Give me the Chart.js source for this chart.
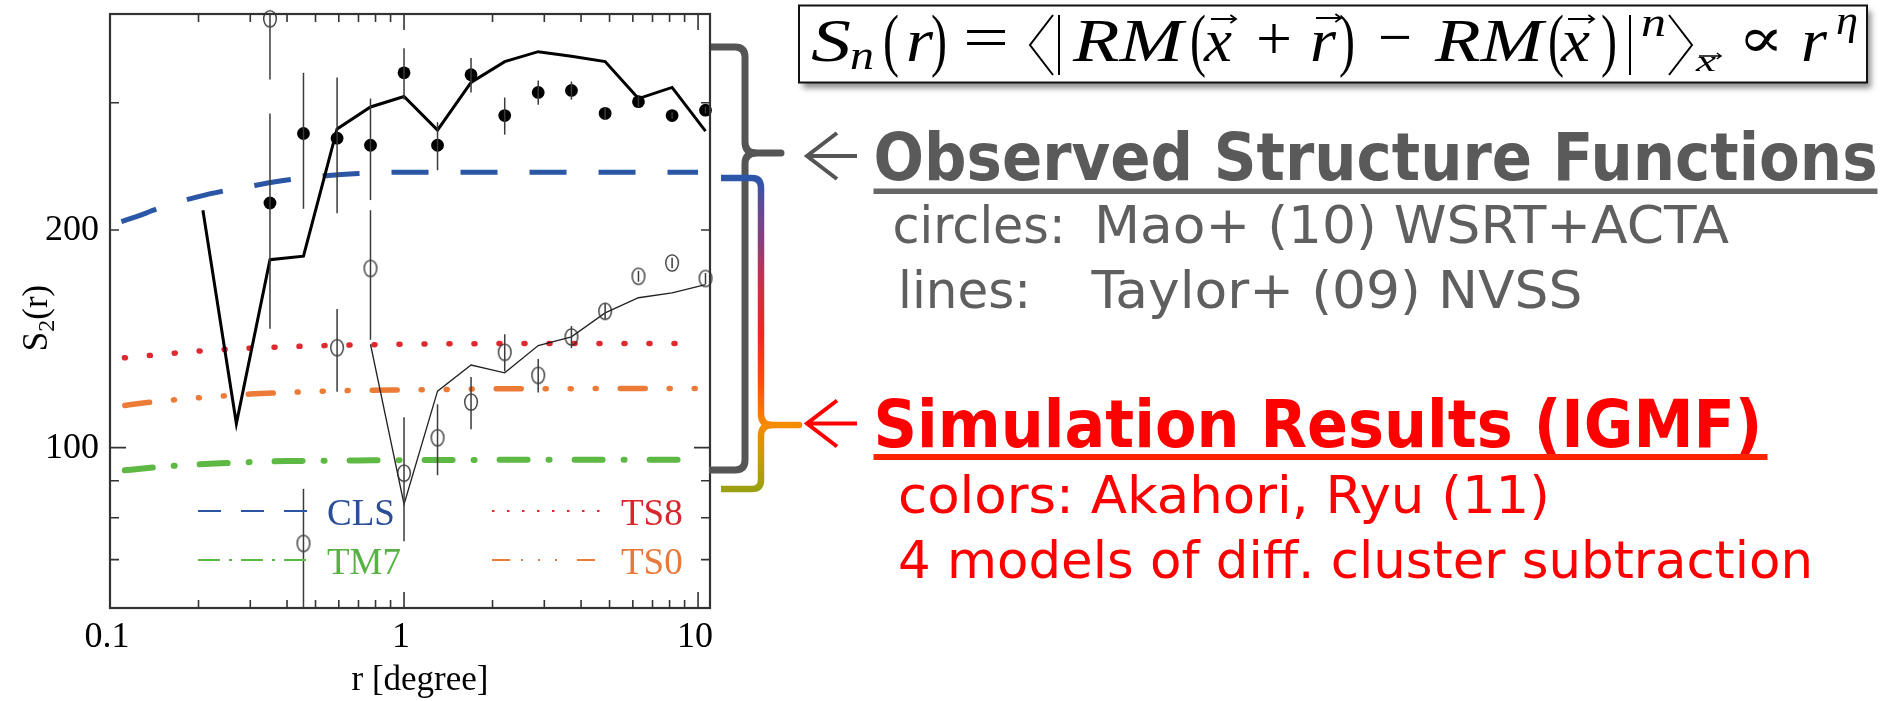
<!DOCTYPE html>
<html>
<head>
<meta charset="utf-8">
<title>RM structure functions</title>
<script src="https://cdn.jsdelivr.net/npm/chart.js@4.4.1/dist/chart.umd.min.js"></script>
<style>
  html, body { margin: 0; padding: 0; background: #fff; overflow: hidden; }
  #box { position: relative; width: 1895px; height: 701px; }
</style>
</head>
<body>
<div id="box"><canvas id="sf"></canvas></div>
<script>
// separations of the binned points, degrees
const rBins = [0.35, 0.455, 0.592, 0.769, 1.0, 1.3, 1.69, 2.2, 2.86, 3.71, 4.83, 6.27, 8.16, 10.6];

// Mao+ (10): filled circles and open circles with 1-sigma bars
const s2Filled = [218, 272, 268, 262, 330, 262, 328, 288, 310, 312, 290, 301, 288, 293];
const errFilled = [72, 58, 57, 42, 27, 20, 18, 17, 12, 9, 6, 5, 3, 3];
const s2Open = [392, 73.7, 137.5, 177, 92.2, 103.2, 115.6, 135.5, 125.9, 142.3, 154.4, 172.6, 180.1, 171.4];
const errOpen = [69, 14, 18, 36, 18, 11.6, 9.6, 8, 6.7, 5, 4, 3, 3, 3];

// Taylor+ (09) NVSS, thick and thin curves
const rNvssA = [0.207, 0.269, 0.35, 0.455, 0.592, 0.769, 1.0, 1.3, 1.69, 2.2, 2.86, 3.71, 4.83, 6.27, 8.16, 10.6];
const s2NvssA = [213, 108, 182, 184, 276, 296, 306, 275, 320, 342, 353, 348, 342, 304, 315, 274];
const rNvssB = [0.769, 1.0, 1.3, 1.69, 2.2, 2.86, 3.71, 4.83, 6.27, 8.16, 10.6];
const s2NvssB = [139, 83.5, 119.7, 130.1, 126.9, 138.4, 142.3, 153.6, 161.2, 163.7, 168.1];

// Akahori & Ryu (11) IGMF models
const rModel = [0.1, 0.12, 0.15, 0.2, 0.25, 0.3, 0.4, 0.5, 0.7, 1, 1.5, 2, 3, 5, 10];
const s2CLS = [203, 208, 215, 222.5, 227, 230, 234.5, 237, 239.5, 240.5, 240.5, 240.5, 240.5, 240.5, 240.5];
const s2TS8 = [132.6, 133.5, 134.6, 136, 136.8, 137.3, 137.9, 138.3, 138.7, 139, 139.2, 139.3, 139.3, 139.3, 139.3];
const s2TS0 = [113.5, 114.8, 116, 117.2, 118, 118.6, 119.2, 119.6, 120, 120.2, 120.4, 120.6, 120.6, 120.7, 120.7];
const s2TM7 = [92.5, 93.3, 94.1, 94.8, 95.2, 95.5, 95.8, 95.9, 96.0, 96.1, 96.1, 96.2, 96.2, 96.2, 96.2];

// axis ticks
const xMajor = [0.1, 1, 10];
const xMinor = [0.2, 0.3, 0.4, 0.5, 0.6, 0.7, 0.8, 0.9, 2, 3, 4, 5, 6, 7, 8, 9];
const xLabels = ['0.1', '1', '10'];
const yMajor = [100];
const yMinor = [70, 80, 90, 200, 300];
const yLabeled = [100, 200];

const pts = (xs, ys) => xs.map((x, i) => ({ x: x, y: ys[i] }));

// open marker: slightly tall ellipse
const openMarker = document.createElement('canvas');
openMarker.width = 16;
openMarker.height = 20;
(function () {
  const c = openMarker.getContext('2d');
  c.strokeStyle = '#2a2a2a';
  c.lineWidth = 1.3;
  c.beginPath();
  c.ellipse(8, 10, 6.3, 8.2, 0, 0, Math.PI * 2);
  c.stroke();
})();

const modelLine = (label, ys, color, width, dash, offset, cap) => ({
  label: label,
  data: pts(rModel, ys),
  borderColor: color,
  borderWidth: width,
  borderDash: dash,
  borderDashOffset: offset,
  borderCapStyle: cap,
  cubicInterpolationMode: 'monotone',
  pointRadius: 0,
  fill: false
});

const models = [
  { name: 'CLS', color: '#2b55a5', text: '#2a4e98', legendDash: [23, 20] },
  { name: 'TM7', color: '#5db844', text: '#58b243', legendDash: [22, 9, 3, 9] },
  { name: 'TS8', color: '#e0282f', text: '#d9262c', legendDash: [2.5, 12.5] },
  { name: 'TS0', color: '#eb7b36', text: '#e8793a', legendDash: [18, 11, 2, 15, 2, 15, 2, 20] }
];

function fitText(ctx, s, x, y, w) {
  const m = ctx.measureText(s).width;
  ctx.save();
  ctx.translate(x, y);
  ctx.scale(w / m, 1);
  ctx.fillText(s, 0, 0);
  ctx.restore();
}

// data error bars, clipped to the plot area
const errorBars = {
  id: 'errorBars',
  afterDatasetsDraw(chart) {
    const { ctx, chartArea: a, scales: { x, y } } = chart;
    ctx.save();
    ctx.beginPath();
    ctx.rect(a.left, a.top, a.right - a.left, a.bottom - a.top);
    ctx.clip();
    ctx.strokeStyle = '#3a3a3a';
    ctx.lineWidth = 1.5;
    const bars = (vs, es) => rBins.forEach((r, i) => {
      const px = x.getPixelForValue(r);
      ctx.beginPath();
      ctx.moveTo(px, y.getPixelForValue(vs[i] + es[i]));
      ctx.lineTo(px, y.getPixelForValue(Math.max(vs[i] - es[i], 1)));
      ctx.stroke();
    });
    bars(s2Filled, errFilled);
    bars(s2Open, errOpen);
    ctx.restore();
  }
};

// box, inward ticks, tick labels, axis titles and the model legend
const frame = {
  id: 'frame',
  afterDraw(chart) {
    const { ctx, chartArea: a, scales: { x, y } } = chart;
    ctx.save();
    ctx.strokeStyle = '#333';
    ctx.lineWidth = 1.6;
    const tickX = (v, len) => {
      const px = x.getPixelForValue(v);
      ctx.beginPath();
      ctx.moveTo(px, a.bottom); ctx.lineTo(px, a.bottom - len);
      ctx.moveTo(px, a.top); ctx.lineTo(px, a.top + len);
      ctx.stroke();
    };
    const tickY = (v, len) => {
      const py = y.getPixelForValue(v);
      ctx.beginPath();
      ctx.moveTo(a.left, py); ctx.lineTo(a.left + len, py);
      ctx.moveTo(a.right, py); ctx.lineTo(a.right - len, py);
      ctx.stroke();
    };
    xMajor.forEach(v => tickX(v, 16));
    xMinor.forEach(v => tickX(v, 8));
    yMajor.forEach(v => tickY(v, 16));
    yMinor.forEach(v => tickY(v, 9));

    ctx.lineWidth = 2.2;
    ctx.strokeRect(a.left, a.top, a.right - a.left, a.bottom - a.top);

    // tick labels
    ctx.fillStyle = '#000';
    ctx.font = '36px "Liberation Serif"';
    ctx.textBaseline = 'alphabetic';
    ctx.textAlign = 'center';
    xMajor.forEach((v, i) => ctx.fillText(xLabels[i], x.getPixelForValue(v) - 3, 647));
    ctx.textAlign = 'right';
    ctx.textBaseline = 'middle';
    yLabeled.forEach(v => ctx.fillText(String(v), a.left - 11, y.getPixelForValue(v) + 1));

    // axis titles
    ctx.textBaseline = 'alphabetic';
    ctx.textAlign = 'center';
    ctx.font = '35px "Liberation Serif"';
    ctx.fillText('r [degree]', (a.left + a.right) / 2 + 10, 690);

    ctx.save();
    ctx.translate(47, 318);
    ctx.rotate(-Math.PI / 2);
    ctx.textAlign = 'left';
    ctx.font = '35px "Liberation Serif"';
    const wS = ctx.measureText('S').width;
    const wP = ctx.measureText('(r)').width;
    ctx.font = '24px "Liberation Serif"';
    const w2 = ctx.measureText('2').width;
    let sx = -(wS + w2 + wP) / 2;
    ctx.font = '35px "Liberation Serif"';
    ctx.fillText('S', sx, 0);
    ctx.font = '24px "Liberation Serif"';
    ctx.fillText('2', sx + wS, 7);
    ctx.font = '35px "Liberation Serif"';
    ctx.fillText('(r)', sx + wS + w2, 0);
    ctx.restore();

    // legend, two columns
    const cols = [198, 492];
    const rows = [511, 560];
    const textRows = [525, 574];
    models.forEach((m, i) => {
      const col = i < 2 ? 0 : 1;
      const row = i % 2;
      const x0 = cols[col];
      ctx.strokeStyle = m.color;
      ctx.lineWidth = 2;
      ctx.setLineDash(m.legendDash);
      ctx.beginPath();
      ctx.moveTo(x0, rows[row]);
      ctx.lineTo(x0 + 110, rows[row]);
      ctx.stroke();
      ctx.setLineDash([]);
      ctx.fillStyle = m.text;
      ctx.font = '37px "Liberation Serif"';
      ctx.textAlign = 'left';
      ctx.fillText(m.name, x0 + 129, textRows[row]);
    });
    ctx.restore();
  }
};

// formula box, braces, arrows and captions on the right
const notes = {
  id: 'notes',
  afterDraw(chart) {
    const ctx = chart.ctx;
    ctx.save();

    // formula box with drop shadow
    ctx.save();
    ctx.shadowColor = 'rgba(0,0,0,0.45)';
    ctx.shadowBlur = 6;
    ctx.shadowOffsetX = 4;
    ctx.shadowOffsetY = 5;
    ctx.fillStyle = '#fff';
    ctx.fillRect(799, 5.5, 1068, 77);
    ctx.restore();
    ctx.strokeStyle = '#111';
    ctx.lineWidth = 2;
    ctx.strokeRect(799, 5.5, 1068, 77);

    const ital = s => 'italic ' + s + 'px "Liberation Serif"';
    const reg = s => s + 'px "Liberation Serif"';
    const formula = [
      ['S', ital(62), 811, 40, 61],
      ['n', ital(40), 850, 24, 69],
      ['(', reg(70), 883, 16, 63],
      ['r', ital(62), 906, 27, 61],
      [')', reg(70), 931, 16, 63],
      ['=', reg(62), 963, 46, 58],
      ['RM', ital(62), 1073, 110, 61],
      ['(', reg(70), 1190, 16, 63],
      ['x', ital(62), 1204, 28, 61],
      ['+', reg(62), 1256, 36, 59],
      ['r', ital(62), 1310, 26, 61],
      [')', reg(70), 1339, 16, 63],
      ['\u2212', reg(62), 1378, 34, 58],
      ['RM', ital(62), 1435, 108, 61],
      ['(', reg(70), 1548, 16, 63],
      ['x', ital(62), 1561, 29, 61],
      [')', reg(70), 1601, 16, 63],
      ['n', ital(40), 1641, 25, 36],
      ['x', ital(30), 1696, 20, 71],
      ['\u221d', '56px "DejaVu Serif"', 1738, 46, 57],
      ['r', ital(62), 1801, 26, 61],
      ['\u03b7', ital(40), 1836, 22, 34]
    ];
    ctx.fillStyle = '#000';
    ctx.textAlign = 'left';
    ctx.textBaseline = 'alphabetic';
    formula.forEach(t => {
      ctx.font = t[1];
      fitText(ctx, t[0], t[2], t[4], t[3]);
    });
    ctx.strokeStyle = '#000';
    ctx.lineWidth = 2;
    ctx.lineJoin = 'miter';
    ctx.beginPath();
    ctx.moveTo(1053, 15); ctx.lineTo(1030, 45); ctx.lineTo(1053, 75);   // left angle bracket
    ctx.moveTo(1059, 15); ctx.lineTo(1059, 75);                         // bars
    ctx.moveTo(1630, 15); ctx.lineTo(1630, 75);
    ctx.moveTo(1669, 15); ctx.lineTo(1692, 45); ctx.lineTo(1669, 75);   // right angle bracket
    ctx.stroke();
    const vec = (x0, x1, yy, h) => {
      ctx.beginPath();
      ctx.moveTo(x0, yy); ctx.lineTo(x1, yy);
      ctx.moveTo(x1 - h * 1.4, yy - h); ctx.lineTo(x1, yy); ctx.lineTo(x1 - h * 1.4, yy + h);
      ctx.stroke();
    };
    ctx.lineWidth = 1.8;
    vec(1211, 1236, 19, 4);
    vec(1316, 1341, 18, 4);
    vec(1568, 1594, 19, 4);
    ctx.lineWidth = 1.4;
    vec(1699, 1721, 56, 3);

    // grey brace for the observations
    ctx.lineCap = 'butt';
    ctx.lineJoin = 'round';
    ctx.strokeStyle = '#555';
    ctx.lineWidth = 7;
    ctx.beginPath();
    ctx.moveTo(711, 47);
    ctx.lineTo(735, 47);
    ctx.quadraticCurveTo(745, 47, 745, 57);
    ctx.lineTo(745, 142);
    ctx.quadraticCurveTo(745, 153, 756, 153);
    ctx.moveTo(756, 153);
    ctx.quadraticCurveTo(745, 153, 745, 164);
    ctx.lineTo(745, 460);
    ctx.quadraticCurveTo(745, 470, 735, 470);
    ctx.lineTo(709, 470);
    ctx.stroke();
    ctx.lineCap = 'round';
    ctx.beginPath();
    ctx.moveTo(754, 153);
    ctx.lineTo(781, 153);
    ctx.stroke();

    // coloured brace for the models
    const grad = ctx.createLinearGradient(0, 178, 0, 490);
    grad.addColorStop(0, '#2b56aa');
    grad.addColorStop(0.08, '#5b4c9a');
    grad.addColorStop(0.2, '#8a3f7e');
    grad.addColorStop(0.35, '#cc3044');
    grad.addColorStop(0.5, '#f0261f');
    grad.addColorStop(0.65, '#ff4a10');
    grad.addColorStop(0.79, '#f58a00');
    grad.addColorStop(0.88, '#cf9a05');
    grad.addColorStop(1, '#9aa012');
    ctx.strokeStyle = grad;
    ctx.lineWidth = 6.5;
    ctx.lineCap = 'butt';
    ctx.beginPath();
    ctx.moveTo(721, 178);
    ctx.lineTo(752, 178);
    ctx.quadraticCurveTo(761, 178, 761, 188);
    ctx.lineTo(761, 414);
    ctx.quadraticCurveTo(761, 425, 772, 425);
    ctx.moveTo(772, 425);
    ctx.quadraticCurveTo(761, 425, 761, 436);
    ctx.lineTo(761, 480);
    ctx.quadraticCurveTo(761, 489, 752, 489);
    ctx.lineTo(721, 489);
    ctx.stroke();
    ctx.strokeStyle = '#f58c00';
    ctx.lineCap = 'round';
    ctx.beginPath();
    ctx.moveTo(770, 425);
    ctx.lineTo(799, 425);
    ctx.stroke();

    // arrows
    const arrow = (yy, color) => {
      ctx.strokeStyle = color;
      ctx.lineWidth = 4;
      ctx.lineCap = 'butt';
      ctx.lineJoin = 'miter';
      ctx.beginPath();
      ctx.moveTo(837, yy - 23); ctx.lineTo(807, yy); ctx.lineTo(837, yy + 23);
      ctx.moveTo(808, yy); ctx.lineTo(857, yy);
      ctx.stroke();
    };
    arrow(156, '#555');
    arrow(423.5, '#ff0000');

    // captions
    ctx.textAlign = 'left';
    ctx.textBaseline = 'alphabetic';
    ctx.fillStyle = '#5a5a5a';
    ctx.font = 'bold 66px "DejaVu Sans"';
    fitText(ctx, 'Observed Structure Functions', 873.5, 180, 1004);
    ctx.fillStyle = '#666';
    ctx.fillRect(873.5, 188.5, 1004, 5.5);
    ctx.fillStyle = '#5f5f5f';
    ctx.font = '52px "DejaVu Sans"';
    fitText(ctx, 'circles:', 892.5, 243, 173);
    fitText(ctx, 'Mao+ (10) WSRT+ACTA', 1094, 243, 635);
    fitText(ctx, 'lines:', 898, 308, 133);
    fitText(ctx, 'Taylor+ (09) NVSS', 1091.5, 308, 491);

    ctx.fillStyle = '#ff0000';
    ctx.font = 'bold 66px "DejaVu Sans"';
    fitText(ctx, 'Simulation Results (IGMF)', 873.5, 446.5, 889);
    ctx.fillStyle = '#ff2400';
    ctx.fillRect(873.5, 454, 894, 6);
    ctx.fillStyle = '#ff0000';
    ctx.font = '52px "DejaVu Sans"';
    fitText(ctx, 'colors: Akahori, Ryu (11)', 898, 513, 652);
    fitText(ctx, '4 models of diff. cluster subtraction', 898, 578, 915);

    ctx.restore();
  }
};

new Chart(document.getElementById('sf'), {
  type: 'line',
  data: {
    datasets: [
      {
        label: 'Mao+ (10) filled',
        data: pts(rBins, s2Filled),
        showLine: false,
        pointRadius: 6.4,
        pointBackgroundColor: '#000',
        pointBorderColor: '#000',
        pointBorderWidth: 0,
        clip: false
      },
      {
        label: 'Mao+ (10) open',
        data: pts(rBins, s2Open),
        showLine: false,
        pointRadius: 8,
        pointStyle: openMarker,
        clip: false
      },
      {
        label: 'Taylor+ (09) thick',
        data: pts(rNvssA, s2NvssA),
        borderColor: '#000',
        borderWidth: 3,
        pointRadius: 0,
        tension: 0,
        fill: false
      },
      {
        label: 'Taylor+ (09) thin',
        data: pts(rNvssB, s2NvssB),
        borderColor: '#222',
        borderWidth: 1.3,
        pointRadius: 0,
        tension: 0,
        fill: false
      },
      modelLine('CLS', s2CLS, '#2b55a5', 5, [37, 32], 57, 'butt'),
      modelLine('TS8', s2TS8, '#e0282f', 5.5, [1, 24], 10.5, 'round'),
      modelLine('TS0', s2TS0, '#eb7b36', 5.5, [25, 24, 1, 24, 1, 24, 1, 24], 109, 'round'),
      modelLine('TM7', s2TM7, '#5db844', 6, [28, 21, 1, 25], 60, 'round')
    ]
  },
  options: {
    responsive: true,
    maintainAspectRatio: false,
    animation: false,
    events: [],
    layout: { autoPadding: false, padding: { left: 110, top: 14, right: 1185, bottom: 93 } },
    scales: {
      x: { type: 'logarithmic', min: 0.1, max: 10.98, display: false },
      y: { type: 'logarithmic', min: 60, max: 398, display: false }
    },
    plugins: {
      legend: { display: false },
      tooltip: { enabled: false }
    }
  },
  plugins: [errorBars, frame, notes]
});
</script>
</body>
</html>
